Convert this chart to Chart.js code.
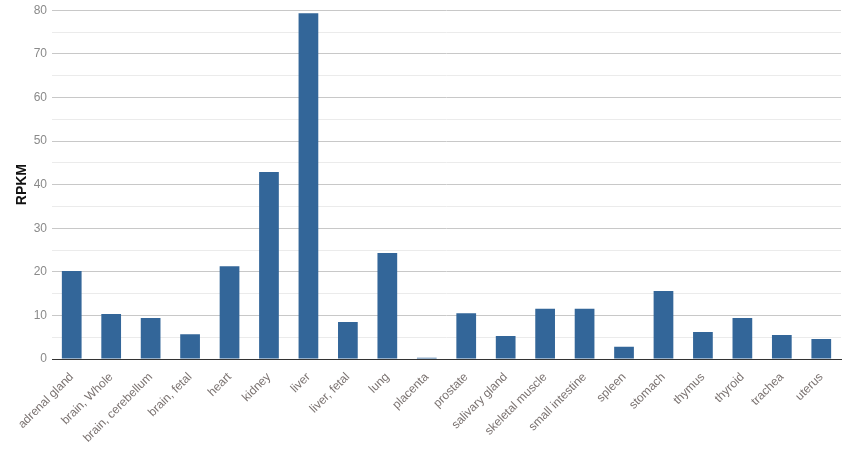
<!DOCTYPE html>
<html>
<head>
<meta charset="utf-8">
<script src="https://cdn.jsdelivr.net/npm/chart.js@4/dist/chart.umd.min.js"></script>
<style>
  html, body { margin: 0; padding: 0; background: #fff; }
  #wrap { width: 849px; height: 450px; }
</style>
</head>
<body>
<div id="wrap"><canvas id="c" width="849" height="450"></canvas></div>
<script>
const categories = ["adrenal gland", "brain, Whole", "brain, cerebellum", "brain, fetal", "heart", "kidney", "liver", "liver, fetal", "lung", "placenta", "prostate", "salivary gland", "skeletal muscle", "small intestine", "spleen", "stomach", "thymus", "thyroid", "trachea", "uterus"];
const rpkm = [20.2, 10.3, 9.4, 5.7, 21.3, 42.9, 79.3, 8.5, 24.3, 0.3, 10.5, 5.3, 11.5, 11.5, 2.8, 15.6, 6.2, 9.4, 5.5, 4.6];
const yMin = 0, yMax = 80, yStep = 5, yLabelStep = 10;
const yTitle = "RPKM";

new Chart(document.getElementById('c'), {
  type: 'bar',
  data: {
    labels: categories,
    datasets: [{
      data: rpkm,
      backgroundColor: '#336699',
      borderWidth: 0,
      categoryPercentage: 1.0,
      barPercentage: 0.5
    }]
  },
  options: {
    responsive: false,
    animation: false,
    layout: { padding: { left: 8, right: 8, top: 1, bottom: 0 } },
    plugins: { legend: { display: false }, tooltip: { enabled: false } },
    scales: {
      x: {
        grid: { display: false, drawTicks: false },
        border: { display: true, color: '#333333', width: 1 },
        afterFit: (s) => { s.paddingLeft = 0; s.height = 91; },
        ticks: {
          color: '#7a7270',
          font: { family: 'Liberation Sans, Arial, sans-serif', size: 12 },
          minRotation: 45, maxRotation: 45,
          autoSkip: false,
          padding: 11
        }
      },
      y: {
        min: yMin, max: yMax,
        afterFit: (s) => { s.paddingTop = Math.max(0, s.paddingTop - 2); s.width = 44; },
        grid: {
          drawTicks: false,
          color: (ctx) => (ctx.tick && ctx.tick.value % yLabelStep === 0) ? '#c8c8c8' : '#ebebeb',
          lineWidth: 1
        },
        border: { display: false },
        ticks: {
          stepSize: yStep,
          color: '#8a8a8a',
          padding: 5,
          font: { family: 'Liberation Sans, Arial, sans-serif', size: 12 },
          callback: (v) => (v % yLabelStep === 0) ? String(v) : ''
        },
        title: {
          display: true,
          text: yTitle,
          color: '#111',
          font: { family: 'Liberation Sans, Arial, sans-serif', size: 14, weight: 'bold' },
          padding: { top: 6, bottom: 3 }
        }
      }
    }
  }
});
</script>
</body>
</html>
